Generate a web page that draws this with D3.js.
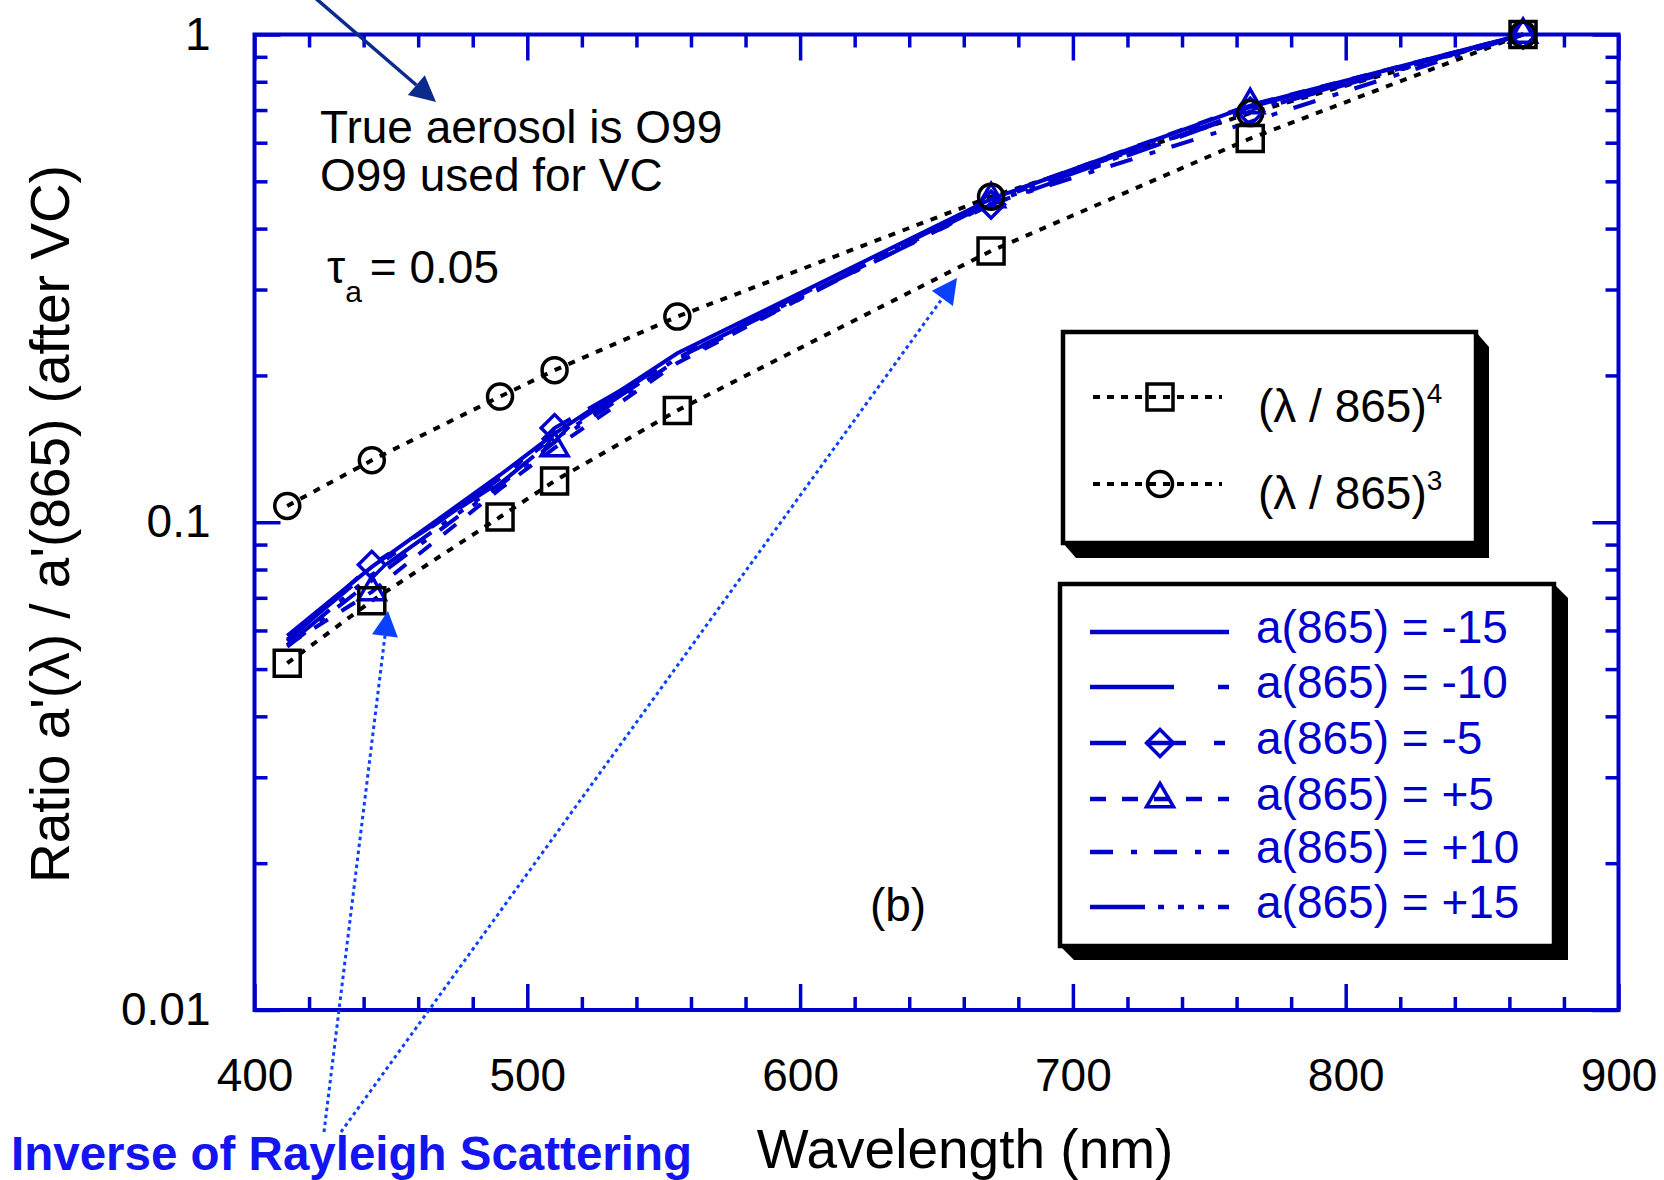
<!DOCTYPE html>
<html>
<head>
<meta charset="utf-8">
<script src="https://cdn.jsdelivr.net/npm/d3@7"></script>
<style>
  body { margin: 0; background: #fff; }
  svg { display: block; }
</style>
</head>
<body>
<div id="graph"></div>
<script>
// wavelengths (nm) of the bands
const wavelengths = [412, 443, 490, 510, 555, 670, 765, 865];
// bands where the blue curves carry a marker
const blueMarkerBands = [443, 510, 670, 765, 865];

// reference curves (black, dotted)
const lambdaPow4 = [0.0514, 0.0690, 0.1025, 0.1215, 0.1695, 0.360, 0.612, 1];
const lambdaPow3 = [0.108, 0.134, 0.181, 0.205, 0.264, 0.465, 0.690, 1];

// ratio a'(lambda)/a'(865) after VC, one array per a(865) value
const aMinus15 = [0.0585, 0.0810, 0.1250, 0.1520, 0.2220, 0.4600, 0.7150, 1];
const aMinus10 = [0.0575, 0.0800, 0.1230, 0.1500, 0.2200, 0.4550, 0.7100, 1];
const aMinus5  = [0.0570, 0.0818, 0.1210, 0.1560, 0.2170, 0.4480, 0.6950, 1];
const aPlus5   = [0.0560, 0.0720, 0.1170, 0.1420, 0.2120, 0.4600, 0.7170, 1];
const aPlus10  = [0.0556, 0.0760, 0.1190, 0.1460, 0.2150, 0.4500, 0.6620, 1];
const aPlus15  = [0.0560, 0.0780, 0.1200, 0.1480, 0.2170, 0.4520, 0.7000, 1];

const blueLabels = ["a(865) = -15", "a(865) = -10", "a(865) = -5",
                    "a(865) = +5", "a(865) = +10", "a(865) = +15"];

// axis ticks
const xTicksMajor = [400, 500, 600, 700, 800, 900];
const yTicksMajor = [0.01, 0.1, 1];
const yTickLabels = ["0.01", "0.1", "1"];

const font = "'Liberation Sans', Arial, Helvetica, sans-serif";
const axisBlue = "#0000cc";
const lineBlue = "#0000cc";

// set the dimensions and margins of the graph
const W = 1664, H = 1180;
const margin = {top: 34.5, right: 45.5, bottom: 170, left: 254.5};
const width = W - margin.left - margin.right;
const height = H - margin.top - margin.bottom;

const svg = d3.select("#graph").append("svg")
    .attr("width", W)
    .attr("height", H)
    .attr("font-family", font);

const plot = svg.append("g")
    .attr("transform", "translate(" + margin.left + "," + margin.top + ")");

const x = d3.scaleLinear().domain([400, 900]).range([0, width]);
const y = d3.scaleLog().domain([0.01, 1]).range([height, 0]);

const xTicksMinor = d3.range(400, 901, 20).filter(d => d % 100 !== 0);
const yTicksMinor = [0.01, 0.1].flatMap(dec => d3.range(2, 10).map(k => k * dec));

// draws one set of inward ticks
function ticks(axis, transform, size){
    const g = plot.append("g")
        .attr("transform", transform)
        .call(axis.tickSize(size))
        .attr("font-family", font)
        .attr("font-size", 46);
    g.select(".domain").remove();
    g.selectAll(".tick line").attr("stroke", axisBlue).attr("stroke-width", 3.5);
    g.selectAll(".tick text").attr("fill", "#000");
    return g;
}

// bottom
ticks(d3.axisBottom(x).tickValues(xTicksMajor).tickFormat(d3.format("d")),
      "translate(0," + height + ")", -26)
    .selectAll(".tick text").attr("y", 81).attr("dy", 0);
ticks(d3.axisBottom(x).tickValues(xTicksMinor).tickFormat(""), "translate(0," + height + ")", -13);
// top
ticks(d3.axisTop(x).tickValues(xTicksMajor).tickFormat(""), "translate(0,0)", -26);
ticks(d3.axisTop(x).tickValues(xTicksMinor).tickFormat(""), "translate(0,0)", -13);
// left
ticks(d3.axisLeft(y).tickValues(yTicksMajor).tickFormat((d, i) => yTickLabels[i]).tickPadding(44),
      "translate(0,0)", -26);
ticks(d3.axisLeft(y).tickValues(yTicksMinor).tickFormat(""), "translate(0,0)", -13);
// right
ticks(d3.axisRight(y).tickValues(yTicksMajor).tickFormat(""), "translate(" + width + ",0)", -26);
ticks(d3.axisRight(y).tickValues(yTicksMinor).tickFormat(""), "translate(" + width + ",0)", -13);

// frame
plot.append("rect")
    .attr("width", width)
    .attr("height", height)
    .attr("fill", "none")
    .attr("stroke", axisBlue)
    .attr("stroke-width", 4);

// markers
function symbolPath(type){
    if(type == "square") return d3.symbol(d3.symbolSquare, 676)();
    if(type == "circle") return d3.symbol(d3.symbolCircle, 491)();
    if(type == "diamond") return d3.symbol(d3.symbolSquare, 361)();
    if(type == "triangle") return d3.symbol(d3.symbolTriangle, 316)();
}

function drawMarker(g, type, cx, cy, color){
    g.append("path")
        .attr("d", symbolPath(type))
        .attr("transform", "translate(" + cx + "," + cy + ")" + (type == "diamond" ? " rotate(45)" : ""))
        .attr("fill", "none")
        .attr("stroke", color)
        .attr("stroke-width", 3.5);
}

const line = d3.line()
    .x((d, i) => x(wavelengths[i]))
    .y(d => y(d));

// black reference curves
const blackSeries = [lambdaPow4, lambdaPow3];
const blackMarkers = ["square", "circle"];

blackSeries.forEach(data => {
    plot.append("path")
        .datum(data)
        .attr("fill", "none")
        .attr("stroke", "#000")
        .attr("stroke-width", 4)
        .attr("stroke-dasharray", "7,8")
        .attr("d", line);
});

// blue curves
const blueSeries = [aMinus15, aMinus10, aMinus5, aPlus5, aPlus10, aPlus15];
const blueDashes = ["none", "84,44,11,44", "36,20,40,28,11,28", "16,16",
                    "23,18,6,17", "55,13,6,14,6,14,6,14"];
const blueMarkers = [null, null, "diamond", "triangle", null, null];

blueSeries.forEach((data, k) => {
    plot.append("path")
        .datum(data)
        .attr("fill", "none")
        .attr("stroke", lineBlue)
        .attr("stroke-width", 4)
        .attr("stroke-dasharray", blueDashes[k])
        .attr("d", line);
});

blueSeries.forEach((data, k) => {
    if(!blueMarkers[k]) return;
    data.forEach((d, i) => {
        if(blueMarkerBands.includes(wavelengths[i])){
            drawMarker(plot, blueMarkers[k], x(wavelengths[i]), y(d), lineBlue);
        }
    });
});
blackSeries.forEach((data, k) => {
    data.forEach((d, i) => drawMarker(plot, blackMarkers[k], x(wavelengths[i]), y(d), "#000"));
});

// legend boxes with a black 3D shadow
function legendBox(l, t, r, b, dx, dy){
    svg.append("polygon")
        .attr("points", [[r, t], [r + dx, t + dy], [r + dx, b + dy], [l + dx, b + dy], [l, b]].join(" "))
        .attr("fill", "#000");
    svg.append("rect")
        .attr("x", l).attr("y", t)
        .attr("width", r - l).attr("height", b - t)
        .attr("fill", "#fff")
        .attr("stroke", "#000")
        .attr("stroke-width", 4.5);
}

// legend 1 : reference curves
legendBox(1063, 332, 1476, 543, 13, 15);
const leg1Y = [397, 484];
const leg1Pow = ["4", "3"];
blackSeries.forEach((data, k) => {
    svg.append("line")
        .attr("x1", 1093).attr("x2", 1222)
        .attr("y1", leg1Y[k]).attr("y2", leg1Y[k])
        .attr("stroke", "#000")
        .attr("stroke-width", 4)
        .attr("stroke-dasharray", "7,7");
    drawMarker(svg, blackMarkers[k], 1160, leg1Y[k], "#000");
    const t = svg.append("text")
        .attr("x", 1258).attr("y", leg1Y[k] + 25)
        .attr("font-size", 46);
    t.append("tspan").text("(\u03bb / 865)");
    t.append("tspan").attr("font-size", 28).attr("dy", -19).text(leg1Pow[k]);
});

// legend 2 : a(865) values
legendBox(1060, 584, 1554, 946, 14, 14);
const leg2Y = [632, 687, 743, 799, 852, 907];
blueSeries.forEach((data, k) => {
    svg.append("line")
        .attr("x1", 1090).attr("x2", 1229)
        .attr("y1", leg2Y[k]).attr("y2", leg2Y[k])
        .attr("stroke", lineBlue)
        .attr("stroke-width", 4.5)
        .attr("stroke-dasharray", blueDashes[k]);
    if(blueMarkers[k]) drawMarker(svg, blueMarkers[k], 1160, leg2Y[k], lineBlue);
    svg.append("text")
        .attr("x", 1256).attr("y", leg2Y[k] + 11)
        .attr("font-size", 46)
        .attr("fill", lineBlue)
        .text(blueLabels[k]);
});

// axis titles
svg.append("text")
    .attr("x", 965).attr("y", 1168)
    .attr("text-anchor", "middle")
    .attr("font-size", 55)
    .text("Wavelength (nm)");

svg.append("text")
    .attr("transform", "translate(69,524) rotate(-90)")
    .attr("text-anchor", "middle")
    .attr("font-size", 55)
    .text("Ratio a'(\u03bb) / a'(865) (after VC)");

// annotations
svg.append("text").attr("x", 320).attr("y", 143).attr("font-size", 46).text("True aerosol is O99");
svg.append("text").attr("x", 320).attr("y", 191).attr("font-size", 46).text("O99 used for VC");
const tau = svg.append("text").attr("x", 327).attr("y", 283).attr("font-size", 46);
tau.append("tspan").text("\u03c4");
tau.append("tspan").attr("font-size", 30).attr("dy", 19).text("a");
tau.append("tspan").attr("dy", -19).attr("dx", 8).text("= 0.05");
svg.append("text").attr("x", 898).attr("y", 921).attr("text-anchor", "middle").attr("font-size", 46).text("(b)");

svg.append("text")
    .attr("x", 11).attr("y", 1170)
    .attr("font-size", 47.5)
    .attr("font-weight", "bold")
    .attr("fill", "#1414f0")
    .text("Inverse of Rayleigh Scattering");

// arrows
function arrow(x1, y1, x2, y2, color, width, dash, headLen, headHalf){
    const a = Math.atan2(y2 - y1, x2 - x1);
    const bx = x2 - headLen * Math.cos(a), by = y2 - headLen * Math.sin(a);
    svg.append("line")
        .attr("x1", x1).attr("y1", y1).attr("x2", bx).attr("y2", by)
        .attr("stroke", color)
        .attr("stroke-width", width)
        .attr("stroke-dasharray", dash);
    const px = -Math.sin(a) * headHalf, py = Math.cos(a) * headHalf;
    svg.append("polygon")
        .attr("points", [[x2, y2], [bx + px, by + py], [bx - px, by - py]].join(" "))
        .attr("fill", color);
}

arrow(306, -10, 436, 102, "#0a2a8c", 3.5, null, 26, 13);
arrow(324, 1132, 388, 611, "#0a40ff", 3, "3.5,3.5", 25, 13);
arrow(341, 1132, 957, 278, "#0a40ff", 3, "3.5,3.5", 25, 13);
</script>
</body>
</html>
